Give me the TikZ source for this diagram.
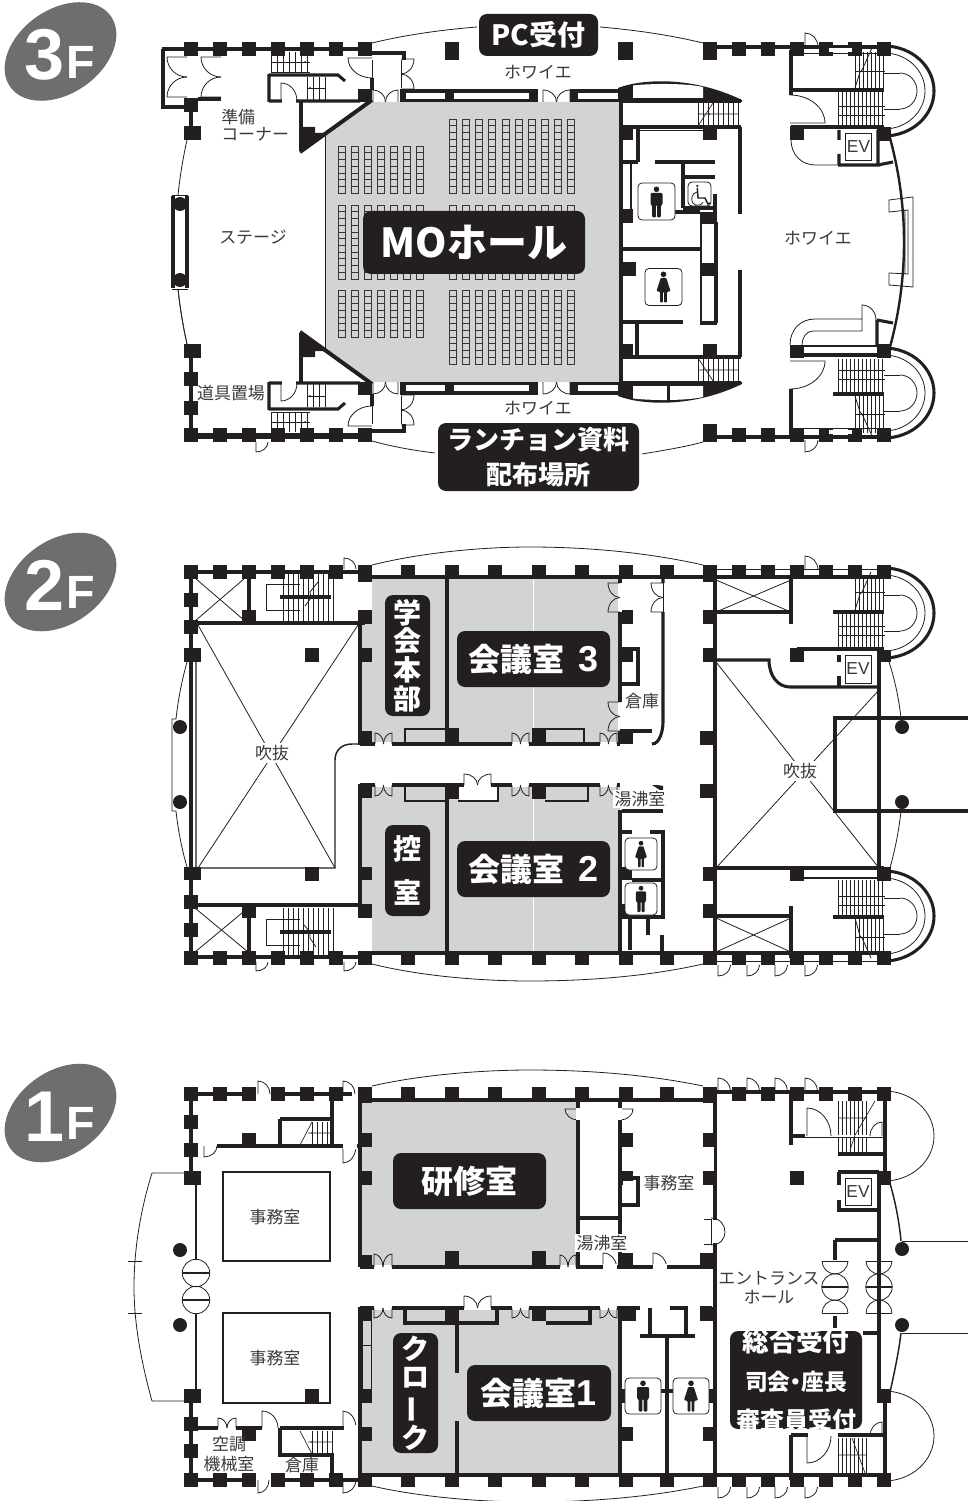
\documentclass[tikz,border=0pt]{standalone}
\usepackage{fontspec}
\setmainfont{Noto Sans CJK JP}
\newfontfamily\latb{Liberation Sans}
\definecolor{ink}{HTML}{231F20}
\definecolor{hallg}{HTML}{D1D3D4}
\definecolor{badgeg}{HTML}{6D6E70}
\definecolor{txtg}{HTML}{3A3A3A}
\tikzset{
 wall/.style={ink,line width=2.3pt},
 midl/.style={ink,line width=1.1pt},
 thinl/.style={ink,line width=.6pt},
 stairl/.style={ink,line width=.5pt},
 seatl/.style={ink!90,line width=.5pt},
 lbl/.style={text=txtg,inner sep=0pt,font=\fontsize{12.7}{15}\selectfont,align=center},
 wlbl/.style={text=white,inner sep=0pt,align=center},
}
\newcommand\pil[2]{\fill[ink] (#1-7.2,#2-7.2) rectangle (#1+7.2,#2+7.2);}
\newcommand\blk[4]{\fill[ink] (#1,#2) rectangle (#3,#4);}
\newcommand\wht[4]{\fill[white] (#1,#2) rectangle (#3,#4);}
\newcommand\door[4]{\draw[thinl,shift={(#1,#2)},xscale=#3,yscale=#4] (0,0)--(0,1) .. controls (.55,1) and (1,.55) .. (1,0);}
\newcommand\doorh[4]{\draw[thinl,shift={(#1,#2)},xscale=#3,yscale=#4] (0,0)--(1,0) .. controls (1,.55) and (.55,1) .. (0,1);}
\newcommand\dbl[4]{\fill[white] (#1,#3-2.2) rectangle (#2,#3+2.2);\door{#1}{#3}{(#2-#1)/2}{#4}\door{#2}{#3}{-(#2-#1)/2}{#4}}
\newcommand\dblv[4]{\fill[white] (#1-2.2,#2) rectangle (#1+2.2,#3);\doorh{#1}{#2}{#4}{(#3-#2)/2}\doorh{#1}{#3}{#4}{-(#3-#2)/2}}
\newcommand\semi[5][thinl]{\draw[#1,shift={(#2,#3)},xscale=#4,yscale=#5] (0,-1) .. controls (.552,-1) and (1,-.552) .. (1,0) .. controls (1,.552) and (.552,1) .. (0,1);}
\newcommand\stv[5]{\foreach \xx in {#1,#2,...,#3}{\draw[stairl] (\xx,#4)--(\xx,#5);}}
\newcommand\rail[1]{\semi{900}{#1}{17}{18}\draw[thinl] (884,#1-18)--(900,#1-18) (884,#1+18)--(900,#1+18);}
\newcommand\tower[1]{\semi[wall]{884}{#1}{50}{45}\semi{884}{#1}{41}{38}\rail{#1}}
\newcommand\seats[4]{\draw[seatl] \foreach \cc in {0,...,#3}{\foreach \rr in {0,...,#4}{(#1+13.1*\cc,#2+6.72*\rr) rectangle ++(7,6.72)}};}
% \bx{name}{x1}{y1}{x2}{y2}{font size}{leading}{text}
\newcommand\bx[8]{\fill[ink,rounded corners=6pt] (#2,#3) rectangle (#4,#5);\node[wlbl,font=\fontsize{#6}{#7}\selectfont\bfseries] (#1) at ({(#2+#4)/2},{(#3+#5)/2}) {#8};}
\newcommand\iconbox[4]{\draw[thinl,fill=white,rounded corners=3pt] (#1-#3,#2-#4) rectangle (#1+#3,#2+#4);}
\newcommand\manic[3]{\begin{scope}[shift={(#1,#2)},scale=#3]\fill[ink] (0,-12.7) circle[radius=2.8];\fill[ink,rounded corners=.8pt] (-6,-9)--(6,-9)--(6,3)--(4.3,3)--(4.3,15.5)--(.6,15.5)--(.6,3)--(-.6,3)--(-.6,15.5)--(-4.3,15.5)--(-4.3,3)--(-6,3)--cycle;\end{scope}}
\newcommand\womanic[3]{\begin{scope}[shift={(#1,#2)},scale=#3]\fill[ink] (0,-12.7) circle[radius=2.8];\fill[ink,rounded corners=.6pt] (-2.8,-9)--(2.8,-9)--(7,4)--(3.4,5)--(3.4,15.5)--(.6,15.5)--(.6,5)--(-.6,5)--(-.6,15.5)--(-3.4,15.5)--(-3.4,5)--(-7,4)--cycle;\end{scope}}
\newcommand\xbox[4]{\draw[thinl] (#1,#2)--(#3,#4) (#3,#2)--(#1,#4);}
\newcommand\revdoor[2]{\draw[thinl] (#1,#2) circle[radius=13.2];\draw[midl] (#1-13,#2)--(#1+13,#2);\draw[thinl] (#1-13,#2-26)--(#1+13,#2-26) (#1-13,#2+26)--(#1+13,#2+26);\draw[thinl,shift={(#1,#2-26)}] (-13,0) .. controls (-13,7) and (-7,13) .. (0,13) .. controls (7,13) and (13,7) .. (13,0);\draw[thinl,shift={(#1,#2+26)}] (-13,0) .. controls (-13,-7) and (-7,-13) .. (0,-13) .. controls (7,-13) and (13,-7) .. (13,0);}
\newcommand\threecommon{%
 \blk{400}{89}{538}{102}\wht{405}{93}{445}{99}\wht{454}{93}{529}{99}
 \blk{570}{89}{620}{102}\wht{578}{93}{618}{99}
 \door{543}{102}{13.5}{-12}\door{570}{102}{-13.5}{-12}
 \door{373}{102}{12.5}{-12}\door{398}{102}{-12.5}{-12}
 \blk{358}{89}{372}{102}
 \draw[wall] (372,53)--(404,53)--(404,60);
 \draw[wall] (404,89)--(404,100);
 \draw[thinl] (372,60)--(372,88) (401,60)--(401,88);
 \doorh{401}{59}{13}{15}\doorh{401}{89}{13}{-15}
 \doorh{372}{58}{-24}{20}
 \draw[wall] (372,78)--(372,90);
 \draw[wall] (301,101)--(301,150);
 \draw[ink,line width=3pt] (372,100)--(300,152);
 \fill[ink] (300,127)--(315,127)--(315,133)--(328,133)--(300,153)--cycle;
 \draw[wall] (269,101)--(360,101) (269,75)--(338,75)--(345,81) (269,74)--(269,102);
 \draw[thinl] (281,101)--(281,83) .. controls (290,83) and (297,91) .. (297,101);
 \wht{282}{99}{296}{103}
 \stv{271}{277}{310}{52}{72}\draw[stairl] (271,62)--(310,62);\fill[ink] (305,62) circle[radius=1];
 \draw[stairl] (271,72)--(310,72);
 \stv{307}{313}{325}{77}{100}\draw[stairl] (307,88)--(325,88);\fill[ink] (310,88) circle[radius=1];
 \draw[wall] (191,49)--(372,49);
 \foreach \a in {220,249,278,307,336}{\pil{\a}{49}}
 \blk{358}{42}{372}{56}
 \blk{445}{42}{459}{60}\blk{618}{42}{633}{60}
 \blk{703}{42}{717}{60}
 \foreach \a in {739,768,797,826,855,884}{\pil{\a}{49}}
 \draw[thinl] (187,140) .. controls (183,158) and (180,176) .. (178,195);
 \blk{184}{126}{201}{140}
 \draw[wall] (191,100)--(191,130);
 \fill[ink] (618,88) .. controls (640,79.5) and (690,75) .. (742,100)--(742,102)--(618,102)--cycle;
 \fill[white] (633,85.5) .. controls (650,83.5) and (685,83) .. (703,87)--(703,98)--(633,98)--cycle;
 \draw[wall] (621,100)--(621,135) (620,101)--(741,101) (620,127)--(741,127) (740,127)--(740,214);
 \stv{698}{703}{738}{103}{126}\draw[stairl] (698,114)--(738,114) (698,126)--(713,103);\fill[ink] (709,114) circle[radius=1];
 \blk{620}{126}{633}{140}\blk{703}{126}{717}{140}
}
\begin{document}
\begin{tikzpicture}[x=.75pt,y=-.75pt]
\useasboundingbox (0,0) rectangle (968,1501);
% ---------- badges
\foreach \cy/\n in {51.5/3,582/2,1113/1}{
 \fill[badgeg,rotate around={35:(60.5,\cy)}] (60.5,\cy) ellipse[x radius=61.5,y radius=42];
 \node[wlbl,font=\latb\fontsize{54}{54}\selectfont\bfseries] at (44.5,\cy+3.5) {\n};
 \node[wlbl,font=\latb\fontsize{35}{35}\selectfont\bfseries] at (81,\cy+10.5) {F};
}
% ========== 3F
\fill[hallg] (325,135)--(372,102)--(620,102)--(620,382)--(372,382)--(325,350)--cycle;
\draw[thinl] (325,135)--(325,350);
\seats{338}{146}{6}{6}\seats{338}{205}{6}{10}\seats{338}{290}{6}{6}
\seats{449.5}{119}{9}{10}\seats{449.5}{205}{9}{10}\seats{449.5}{290}{9}{10}
\threecommon
\begin{scope}[shift={(0,484)},yscale=-1]\threecommon\end{scope}
\draw[wall] (621,130)--(621,355);
% left wing top
\draw[wall] (162,49)--(191,49);\pil{191}{49}
\draw[wall] (163,49)--(163,107)--(198,107);
\draw[wall] (198,99)--(221,99);
\draw[thinl] (201,97)--(221,97);
\doorh{187}{57}{-20}{20}\doorh{187}{97}{-20}{-20}
\doorh{221}{57}{-20}{20}\doorh{221}{97}{-20}{-20}
\blk{184}{98}{198}{112}
% stage
\draw[wall] (173,196)--(173,288);\draw[wall] (187,196)--(187,288);
\draw[thinl] (172,195)--(188,195) (172,289)--(188,289);
\fill[ink] (180,204) circle[radius=7] (180,280) circle[radius=7];
% lower left
\draw[wall] (191,351)--(191,437)--(372,437);
\blk{184}{344}{201}{358}
\foreach \a in {191,220,249,278,307,336}{\pil{\a}{435}}
\blk{358}{428}{372}{442}
\pil{191}{379}\pil{191}{408}
\door{256}{442}{12}{10}
\draw[thinl] (187,344) .. controls (183,326) and (180,308) .. (178,289);
\draw[wall] (703,47)--(884,47) (703,437)--(884,437);
\draw[thinl] (372,43) .. controls (405,35) and (440,30) .. (477,27);
\draw[thinl] (600,27) .. controls (635,30) and (670,35) .. (703,43);
\draw[thinl] (372,441) .. controls (390,446) and (410,450) .. (435,453);
\draw[thinl] (642,454) .. controls (660,451) and (685,447) .. (703,442);
\blk{667}{386}{670}{402}
\blk{703}{424}{717}{442}
\foreach \a in {739,768,797,826,855,884}{\pil{\a}{435}}
% inner rooms
\draw[thinl] (638,130)--(703,130);
\draw[wall] (638,127)--(638,162) (620,162)--(638,162) (655,162)--(715,162) (683,162)--(683,208) (685,177)--(715,177) (683,208)--(715,208) (715,194)--(715,222) (675,212)--(700,212);
\draw[midl] (631,163)--(631,210);
\blk{620}{209}{633}{223}
\draw[wall] (620,249)--(700,249);
\draw[ink,line width=1.2pt] (701,222)--(701,323);
\blk{700}{212}{717}{224}\blk{700}{263}{717}{276}
\draw[wall] (716,222)--(716,323) (700,323)--(717,323);
\blk{620}{262}{636}{276}
\draw[wall] (620,322)--(683,322) (637,322)--(637,358);
\iconbox{656.5}{201.5}{18.5}{18.5}\manic{656.5}{202}{1}
\iconbox{663.5}{287}{18.5}{18.5}\womanic{663.5}{287}{1}
\iconbox{699.5}{194}{11.5}{12}
\fill[ink] (697.3,186) circle[radius=1.2];
\draw[midl] (697.3,188)--(698,198)--(705,198)--(708,204)--(710,203);
\draw[thinl] (703,202) .. controls (700,208) and (690,206) .. (692,197) .. controls (692,194) and (695,193) .. (697,192);
% right side
\door{805}{47}{13}{-14}\door{805}{440}{13}{12}
\draw[thinl] (797,53)--(884,53);
\wht{829}{48}{852}{52}
\draw[wall] (791,50)--(791,95) (791,90)--(884,90);
\doorh{790}{123}{35}{-28}
\stv{838}{842}{885}{92}{126}\stv{855}{859}{885}{52}{89}
\draw[stairl] (838,106)--(885,106) (838,115)--(885,115) (855,71)--(885,71);
\draw[thinl] (872,48)--(862,70)--(860,72)--(855,88);
\draw[wall] (791,127)--(884,127);
\pil{797}{133}\pil{884}{134}
\draw[wall] (839,130)--(839,140) (839,154)--(839,165) (838,165)--(880,165) (878,130)--(878,165) (878,165)--(893,162);
\draw[thinl] (845,133) rectangle (871,160);
\node[lbl,font=\latb\fontsize{13}{13}\selectfont] (ev3) at (858.5,147) {EV};
\draw[thinl] (791,140) .. controls (791,155) and (802,165) .. (815,165)--(838,165);
\draw[ink,line width=1.8pt] (890,138) .. controls (900,175) and (904,210) .. (904,242) .. controls (904,275) and (900,310) .. (890,347);
\draw[thinl] (889,200)--(913,197)--(913,287)--(889,285)--(889,273)--(908,274)--(908,210)--(889,212)--cycle (905,210)--(905,274);
\tower{91}\tower{393}
\draw[wall] (791,389)--(791,437);
\doorh{790}{361}{35}{28}
\blk{790}{345}{804}{358}
\draw[midl] (804,346)--(884,346);\draw[wall] (804,355)--(884,355);
\pil{884}{351}
\draw[wall] (833,394)--(884,394);
\stv{838}{842}{885}{359}{393}\stv{855}{859}{885}{396}{433}
\draw[stairl] (838,370)--(885,370) (838,379)--(885,379) (855,414)--(885,414);
\draw[thinl] (872,436)--(862,414)--(860,412)--(855,396);
\draw[thinl] (790,345) .. controls (790,330) and (800,319) .. (815,319)--(862,319);
\draw[thinl] (802,345) .. controls (802,338) and (806,331) .. (813,331)--(862,331)--(862,319);
\draw[thinl] (862,319)--(862,305) .. controls (870,305) and (876,312) .. (876,320);
\draw[wall] (877,320)--(877,346) (877,320)--(893,323);
\draw[thinl] (797,428)--(884,428);
\wht{829}{430}{852}{434}
% texts 3F
\bx{mo}{363}{211}{585}{274}{30}{30}{MOホール}
\bx{pc}{479}{14}{598}{56}{21}{21}{PC受付}
\bx{lunch}{438}{423}{639}{491}{19.5}{26}{ランチョン資料\\配布場所}
\node[lbl] (f1) at (538,72) {ホワイエ};
\node[lbl] (f2) at (538,408) {ホワイエ};
\node[lbl] (f3) at (818,238) {ホワイエ};
\node[lbl] (stg) at (253,237) {ステージ};
\node[lbl,align=left,anchor=west,font=\fontsize{12.7}{13}\selectfont] (jb) at (221,125) {準備\\コーナー};
\node[lbl] (dg) at (231,393) {道具置場};
% ========== 2F
\fill[hallg] (372,577)--(620,577)--(620,744)--(360,744)--(360,622)--(372,622)--cycle;
\fill[hallg] (360,785)--(620,785)--(620,953)--(372,953)--(372,905)--(360,905)--cycle;
\draw[white,line width=.6pt] (533,577)--(533,743) (533,785)--(533,953);
\draw[thinl] (372,565) .. controls (420,553) and (480,547) .. (530,547) .. controls (590,547) and (650,553) .. (703,565);
\draw[thinl] (372,964) .. controls (420,976) and (480,981) .. (530,981) .. controls (590,981) and (650,976) .. (703,964);
\draw[wall] (191,572)--(365,572) (365,577)--(710,577) (191,572)--(191,958) (191,957)--(365,957) (365,953)--(710,953);
\draw[wall] (710,577)--(884,577) (710,953)--(884,953);
\draw[thinl] (710,569)--(884,569) (710,961)--(884,961);
\foreach \a in {191,220,249,278,307,336}{\pil{\a}{572}\pil{\a}{958}}
\blk{358}{565}{372}{582}\blk{358}{951}{372}{965}
\foreach \a in {408,452,495,539,582,626,667}{\pil{\a}{572}\pil{\a}{958}}
\blk{703}{565}{717}{582}\blk{703}{951}{717}{965}
\foreach \a in {739,768,797,826,855,884}{\pil{\a}{572}\pil{\a}{958}}
\pil{191}{600}\pil{191}{627}\blk{184}{648}{201}{662}\blk{184}{867}{201}{880}\pil{191}{902}\pil{191}{930}
\draw[wall] (249,572)--(249,622) (191,623)--(365,623);
\pil{249}{617}\pil{365}{617}
\xbox{195}{578}{245}{621}
\stv{283}{288}{333}{574}{622}
\draw[thinl] (300,584)--(266,584)--(266,610)--(300,610);
\draw[wall] (280,597)--(331,597);
\draw[thinl] (318,582)--(310,592)--(311,598)--(305,606);
\draw[midl] (196,662)--(196,867) (196,868)--(335,868)--(335,760) .. controls (335,750) and (342,744) .. (352,744)--(360,744);
\draw[thinl] (198,625)--(335,868) (358,625)--(198,868);
\pil{312}{655}\pil{312}{874}
\draw[wall] (360,622)--(360,743) (360,785)--(360,905) (447,577)--(447,743) (447,785)--(447,953) (620,577)--(620,743) (620,810)--(620,953);
\draw[wall] (360,744)--(620,744) (360,785)--(620,785);
\blk{361}{648}{372}{662}\blk{361}{867}{372}{880}
\blk{358}{731}{372}{745}\blk{358}{784}{372}{798}\blk{358}{904}{372}{918}
\blk{445}{728}{459}{744}\blk{445}{785}{459}{799}
\blk{532}{728}{546}{744}\blk{532}{785}{546}{799}
\draw[midl] (405,744)--(405,729)--(447,729) (546,729)--(584,729)--(584,744);
\wht{459}{787}{497}{800}
\draw[midl] (405,785)--(405,801)--(447,801) (458,801)--(498,801)--(498,785) (545,801)--(588,801)--(588,787);
\dbl{375}{392}{744}{-11}\dbl{512}{529}{744}{-11}\dbl{600}{617}{744}{-11}
\dbl{375}{392}{785}{11}\dbl{464}{491}{785}{-11}\dbl{512}{529}{785}{11}\dbl{600}{617}{785}{11}
\pil{626}{617}\pil{626}{655}\pil{626}{737}
\dblv{620}{583}{612}{-12}\dblv{620}{702}{731}{-12}
\draw[wall] (663,577)--(663,583) (663,612)--(663,722) .. controls (663,730) and (660,744) .. (652,744);
\draw[thinl] (663,583)--(663,612);
\doorh{663}{583}{-12}{14.5}\doorh{663}{612}{-12}{-14.5}
\draw[wall] (620,731)--(652,731);
\draw[wall] (620,649)--(638,649)--(638,684)--(620,684);
\wht{623}{662}{635}{681}
\fill[ink] (652,785)--(663,792)--(663,786) .. controls (659,785) and (655,785) .. (652,785)--cycle;
\draw[wall] (622,811)--(663,811);
\draw[wall] (620,832)--(632,832) (650,832)--(663,832)--(663,917)--(620,917) (648,917)--(648,935) (662,935)--(662,953) (630,918)--(630,950);
\draw[wall] (632,880)--(662,880);
\blk{620}{867}{632}{880}\blk{620}{904}{630}{918}
\iconbox{641}{854}{16}{16}\womanic{641}{854}{.85}
\iconbox{641}{899}{16}{16}\manic{641}{899}{.85}
\draw[wall] (715,577)--(715,958);
\pil{710}{617}\pil{710}{655}\blk{700}{731}{715}{745}\blk{700}{784}{715}{798}\pil{710}{874}\pil{710}{911}
\draw[wall] (791,577)--(791,624) (716,612)--(791,612) (833,612)--(884,612) (797,649)--(884,649);
\xbox{716}{580}{791}{612}
\stv{838}{842}{885}{614}{648}\stv{855}{859}{885}{576}{610}
\draw[stairl] (838,626)--(885,626) (838,635)--(885,635) (855,592)--(885,592);
\draw[thinl] (871,572)--(862,592)--(860,594)--(855,610);
\door{805}{570}{13}{-14}
\foreach \a in {718,747,775,805}{\door{\a}{965}{12.5}{11}}
\pil{797}{655}\blk{877}{650}{891}{662}
\draw[wall] (716,660)--(769,660) .. controls (769,676) and (778,687) .. (790,687)--(880,687);
\draw[wall] (839,655)--(839,662) (839,676)--(839,687) (879,655)--(879,870);
\draw[thinl] (716,662)--(879,868) (879,690)--(716,868);
\draw[thinl] (845,655) rectangle (871,683);
\node[lbl,font=\latb\fontsize{13}{13}\selectfont] (ev2) at (858,669) {EV};
\draw[wall] (716,868)--(884,868) (716,916)--(791,916) (791,906)--(791,958) (833,917)--(884,917);
\draw[midl] (804,878)--(884,878);
\pil{797}{874}\pil{884}{874}
\xbox{716}{918}{791}{952}
\stv{838}{842}{885}{880}{916}\stv{855}{859}{885}{918}{955}
\draw[stairl] (838,896)--(885,896) (838,905)--(885,905) (855,937)--(885,937);
\draw[thinl] (871,958)--(862,938)--(860,936)--(855,918);
\tower{613}\tower{916}
\draw[wall] (968,718)--(835,718)--(835,811)--(968,811);
\fill[ink] (902,727) circle[radius=7] (902,802) circle[radius=7];
\draw[thinl] (889,662) .. controls (895,680) and (899,700) .. (901,718);
\draw[thinl] (901,811) .. controls (899,830) and (895,850) .. (890,868);
\draw[thinl] (187,662) .. controls (182,680) and (178,700) .. (176,719)--(172,719)--(172,811)--(176,811) .. controls (178,830) and (182,850) .. (187,867);
\fill[ink] (180,727) circle[radius=7] (180,802) circle[radius=7];
\xbox{195}{908}{248}{952}\draw[wall] (191,905)--(360,905) (249,905)--(249,958);
\pil{249}{911}\pil{365}{911}
\stv{283}{288}{333}{908}{956}
\draw[thinl] (300,919)--(266,919)--(266,945)--(300,945);
\draw[wall] (280,932)--(331,932);
\draw[thinl] (304,925)--(310,932)--(310,938)--(316,947);
\door{344}{569}{12}{-11}\door{256}{962}{12}{9}\door{344}{962}{12}{9}
% texts 2F
\bx{hq}{385}{595}{430}{716}{21}{21.6}{学\\会\\本\\部}
\bx{wait}{385}{825}{430}{916}{21}{33}{控\\室}
\bx{r3}{457}{631}{610}{687}{24}{24}{会議室\kern.45em{\latb\fontsize{27}{27}\selectfont 3}}
\bx{r2}{457}{841}{610}{897}{24}{24}{会議室\kern.45em{\latb\fontsize{27}{27}\selectfont 2}}
\node[lbl,fill=white,inner sep=2pt] (f21) at (272,753) {吹抜};
\node[lbl,fill=white,inner sep=2pt] (f22) at (800,771) {吹抜};
\node[lbl] (so2) at (642,701) {倉庫};
\node[lbl,fill=white,inner sep=1pt] (yu2) at (640,799) {湯沸室};
% ========== 1F
\fill[hallg] (360,1100) rectangle (577,1267);
\fill[hallg] (360,1308) rectangle (620,1477);
\draw[thinl] (372,1086) .. controls (420,1075) and (480,1070) .. (530,1070) .. controls (590,1070) and (650,1075) .. (703,1086);
\draw[thinl] (372,1486) .. controls (420,1497) and (480,1502) .. (530,1502) .. controls (590,1502) and (650,1497) .. (703,1486);
\draw[wall] (191,1094)--(352,1094) (365,1100)--(710,1100) (710,1092)--(884,1092) (191,1094)--(191,1178) (191,1396)--(191,1480) (191,1480)--(365,1480) (365,1475)--(710,1475) (710,1475)--(884,1475);
\foreach \a in {191,220,249,278,307,336}{\pil{\a}{1094}\pil{\a}{1480}}
\wht{255}{1090}{271}{1098}\wht{255}{1476}{271}{1484}
\pil{249}{1094}\pil{278}{1094}\pil{249}{1480}\pil{278}{1480}
\blk{358}{1087}{372}{1103}\blk{358}{1473}{372}{1487}
\foreach \a in {408,452,495,539,582,626,667}{\pil{\a}{1094}\pil{\a}{1480}}
\blk{703}{1087}{717}{1103}\blk{703}{1473}{717}{1487}
\foreach \a in {739,768,797,826,855,884}{\pil{\a}{1094}\pil{\a}{1480}}
\pil{191}{1122}\pil{191}{1150}\blk{184}{1171}{201}{1185}\blk{184}{1389}{201}{1403}\pil{191}{1424}\pil{191}{1451}
\draw[wall] (205,1146)--(360,1146) (280,1119)--(332,1119) (280,1119)--(280,1146) (332,1094)--(332,1146);
\wht{204}{1143}{217}{1149}\door{204}{1146}{13}{11}
\pil{249}{1140}
\stv{312}{317}{332}{1122}{1145}\draw[stairl] (300,1145)--(312,1122) (308,1133)--(332,1133);\fill[ink] (312,1133) circle[radius=1];
\door{258}{1094}{12}{-13}\door{343}{1094}{12}{-13}\door{343}{1146}{13}{17}
\wht{343}{1143}{357}{1149}
\door{258}{1480}{11}{13}\door{343}{1480}{13}{13}
\door{718}{1091}{12.5}{-13}\door{747}{1091}{12.5}{-13}\door{775}{1091}{12.5}{-13}\door{805}{1091}{12.5}{-13}
\door{718}{1487}{12.5}{11}\door{747}{1487}{12.5}{11}\door{775}{1487}{12.5}{11}\door{805}{1487}{12.5}{11}
\draw[wall] (360,1100)--(360,1267) (360,1307)--(360,1477) (360,1267)--(715,1267) (360,1308)--(620,1308) (578,1100)--(578,1267) (620,1100)--(620,1267) (578,1218)--(620,1218) (620,1308)--(620,1475) (715,1094)--(715,1480);
\blk{361}{1133}{372}{1147}\blk{361}{1171}{372}{1185}\blk{358}{1255}{372}{1267}
\blk{445}{1251}{459}{1267}\blk{532}{1251}{546}{1267}
\dbl{374}{392}{1267}{-13}\dbl{560}{576}{1267}{-12}
\doorh{578}{1109}{-13}{11}\doorh{620}{1109}{13}{11}
\wht{576}{1108}{580}{1120}\wht{618}{1108}{622}{1120}
\blk{620}{1133}{633}{1147}\blk{620}{1171}{633}{1185}\blk{703}{1133}{715}{1147}\blk{703}{1171}{715}{1185}
\wht{704}{1147}{714}{1171}
\draw[wall] (620,1178)--(638,1178)--(638,1205)--(620,1205);
\wht{623}{1181}{635}{1202}
\blk{620}{1253}{633}{1267}\blk{700}{1253}{715}{1267}
\door{603}{1267}{13.5}{-14}\door{653}{1267}{13.5}{-14}
\wht{603}{1264}{617}{1270}\wht{653}{1264}{667}{1270}
\draw[thinl] (704,1219)--(711,1219)--(711,1244)--(704,1244);
\wht{712}{1220}{718}{1243}
\draw[thinl] (711,1218) .. controls (720,1218) and (725,1225) .. (725,1232) .. controls (725,1239) and (720,1245) .. (711,1245);
\blk{358}{1307}{372}{1321}\blk{358}{1389}{372}{1403}\blk{358}{1427}{372}{1441}
\draw[thinl] (362,1320) rectangle (371,1389) (362,1345)--(371,1345);
\draw[wall] (405,1307)--(405,1323)--(497,1323)--(497,1308) (457,1323)--(457,1373) (457,1421)--(457,1475) (546,1323)--(590,1323)--(590,1308);
\blk{445}{1307}{459}{1323}\blk{532}{1307}{546}{1321}
\dbl{374}{392}{1308}{10}\dbl{464}{491}{1308}{-12}\dbl{512}{529}{1308}{10}\dbl{600}{617}{1308}{10}
\blk{620}{1307}{636}{1321}\blk{700}{1307}{716}{1321}
\draw[wall] (620,1308)--(640,1308) (670,1308)--(688,1308) (700,1308)--(712,1308) (650,1308)--(650,1336) (686,1308)--(686,1336) (640,1336)--(695,1336) (667,1336)--(667,1480) (660,1391)--(675,1391);
\blk{620}{1427}{633}{1441}\blk{703}{1427}{715}{1441}
\iconbox{643}{1396}{18}{18}\manic{643}{1396}{1}
\iconbox{691}{1396}{18}{18}\womanic{691}{1396}{1}
\blk{620}{1389}{625}{1403}\blk{709}{1389}{715}{1403}
\draw[midl] (196,1185)--(196,1259) (196,1314)--(196,1389);
\fill[ink] (180,1250) circle[radius=7] (180,1325) circle[radius=7];
\draw[thinl] (196,1273) circle[radius=13.7] (196,1300) circle[radius=13.7];
\draw[midl] (183,1273)--(209,1273) (183,1300)--(209,1300);
\draw[thinl] (190,1173)--(152,1173) .. controls (142,1205) and (134,1245) .. (134,1287) .. controls (134,1325) and (142,1365) .. (152,1401)--(190,1401);
\draw[thinl] (128,1261)--(142,1261) (128,1313)--(142,1313);
\draw[midl] (223,1172) rectangle (330,1261) (223,1313) rectangle (330,1403);
\pil{312}{1396}
\draw[wall] (191,1428)--(262,1428) (280,1428)--(360,1428) (280,1428)--(280,1455)--(332,1455)--(332,1480);
\pil{249}{1434}
\dbl{218}{236}{1428}{-10}
\door{262}{1428}{16}{-17}\door{343}{1428}{13}{-17}
\wht{344}{1425}{358}{1431}
\stv{312}{317}{332}{1431}{1454}\draw[stairl] (300,1431)--(312,1454) (308,1442)--(332,1442);\fill[ink] (312,1442) circle[radius=1];
\draw[wall] (791,1094)--(791,1145) (791,1136)--(805,1136) (838,1154)--(885,1154) (885,1094)--(885,1178);
\door{807}{1136}{24}{-28}
\draw[thinl] (805,1137)--(885,1137);
\stv{838}{842}{867}{1101}{1135}\stv{838}{842}{867}{1138}{1153}
\draw[stairl] (838,1118)--(867,1118) (875,1101)--(855,1135)--(850,1150);
\door{882}{1136}{-12}{-14}
\pil{797}{1178}\blk{877}{1171}{891}{1185}
\draw[wall] (839,1172)--(839,1185) (839,1200)--(839,1210)--(879,1210) (838,1172)--(879,1172) (879,1172)--(879,1396) (835,1240)--(879,1240) (835,1240)--(835,1260) (835,1316)--(835,1328) (863,1333)--(879,1333);
\draw[thinl] (845,1178) rectangle (871,1205);
\node[lbl,font=\latb\fontsize{13}{13}\selectfont] (ev1) at (858,1192) {EV};
\semi{884}{1136}{50}{45}\semi{884}{1436}{50}{45}
\revdoor{835}{1287}\revdoor{879}{1287}
\draw[thinl] (902,1241)--(968,1241) (902,1333)--(968,1333);
\fill[ink] (902,1249) circle[radius=7] (902,1325) circle[radius=7];
\draw[midl] (889,1180) .. controls (895,1200) and (899,1220) .. (901,1241) (901,1333) .. controls (899,1350) and (895,1370) .. (890,1392);
\pil{884}{1396}
\draw[wall] (885,1396)--(885,1480) (791,1435)--(885,1435) (791,1435)--(791,1480);
\wht{808}{1432}{838}{1438}
\door{807}{1436}{24}{27}
\door{882}{1436}{-12}{-14}
\stv{838}{842}{867}{1438}{1473}
\draw[stairl] (838,1455)--(867,1455) (852,1438)--(865,1473);
% texts 1F
\bx{ken}{393}{1153}{546}{1209}{24}{24}{研修室}
\bx{r1}{467}{1365}{611}{1421}{24}{24}{会議室{\latb\fontsize{27}{27}\selectfont 1}}
\bx{clk}{393}{1333}{438}{1453}{21}{21.2}{ク\\ロ\\\rotatebox[origin=c]{90}{ー}\\ク}
\bx{rec}{730}{1331}{862}{1429}{20}{29}{総合受付\\{\fontsize{17}{26}\selectfont 司会{\kern-.25em}・{\kern-.25em}座長}\\{\fontsize{18}{24}\selectfont 審査員受付}}
\node[lbl] (jm1) at (275,1217) {事務室};
\node[lbl] (jm2) at (275,1358) {事務室};
\node[lbl] (jm3) at (669,1183) {事務室};
\node[lbl,fill=white,inner sep=1pt] (yu1) at (602,1243) {湯沸室};
\node[lbl,font=\fontsize{12.7}{14.5}\selectfont] (ent) at (769,1288) {エントランス\\ホール};
\node[lbl,font=\fontsize{12.7}{14.5}\selectfont] (aky) at (229,1454) {空調\\機械室};
\node[lbl] (so1) at (302,1465) {倉庫};
\end{tikzpicture}
\end{document}
